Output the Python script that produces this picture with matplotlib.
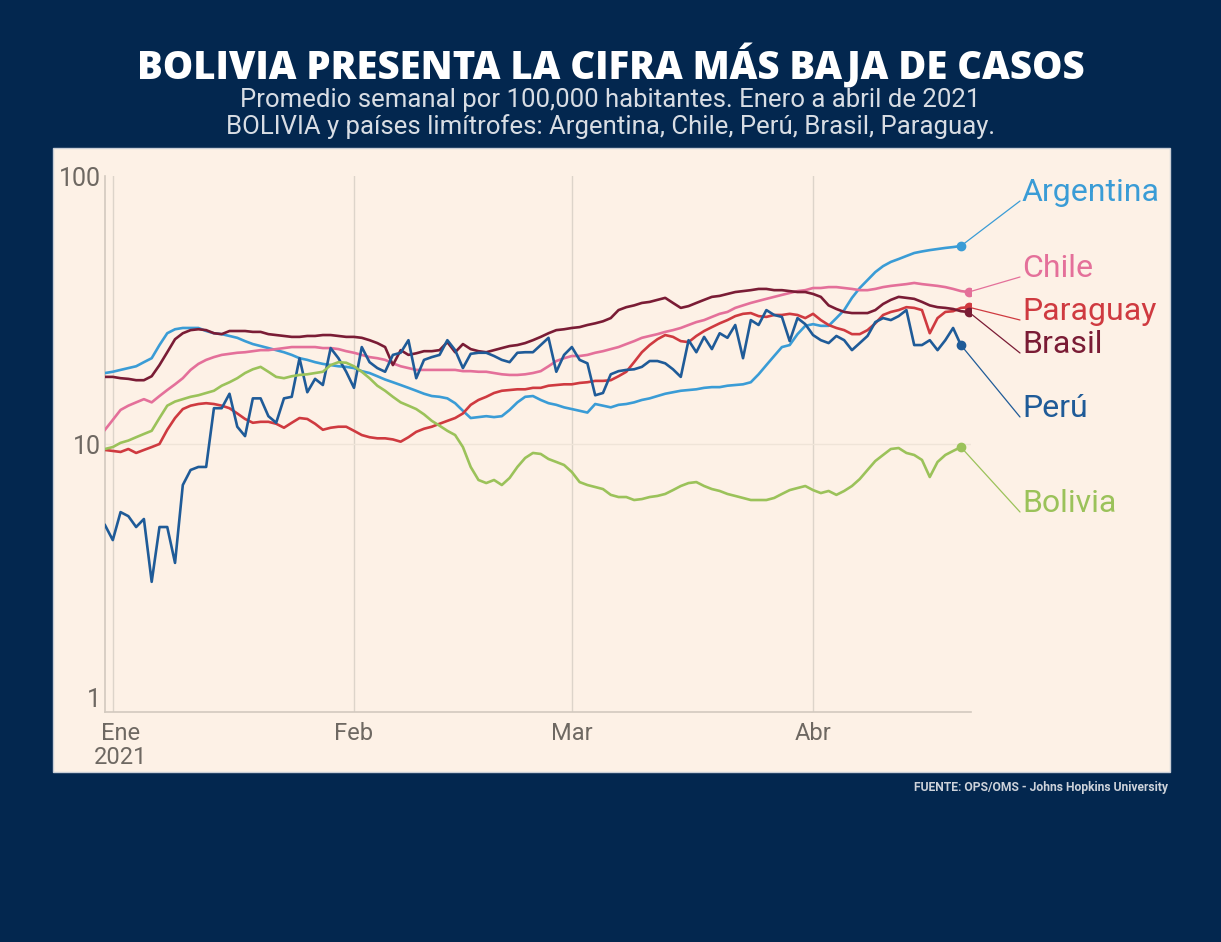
import numpy as np
import pandas as pd
import matplotlib
matplotlib.use("Agg")
from matplotlib import pyplot as plt
from matplotlib.patches import Rectangle
from matplotlib.transforms import ScaledTranslation

# Promedio semanal de casos por 100,000 habitantes, desde el 31 dic 2020
argentina = [
    18.4, 18.6, 18.9, 19.2, 19.5, 20.2, 20.9, 23.4, 25.9, 26.8,
    27.1, 27.1, 27.1, 26.4, 25.9, 25.7, 25.3, 24.9, 24.2, 23.6,
    23.2, 22.8, 22.4, 22.0, 21.5, 20.9, 20.6, 20.2, 19.9, 19.7,
    19.5, 19.4, 19.2, 18.7, 18.4, 17.9, 17.4, 17.0, 16.6, 16.2,
    15.8, 15.4, 15.1, 15.0, 14.8, 14.2, 13.3, 12.5, 12.6, 12.7,
    12.6, 12.7, 13.4, 14.3, 15.0, 15.1, 14.6, 14.2, 14.0, 13.7,
    13.5, 13.3, 13.1, 14.1, 13.9, 13.7, 14.0, 14.1, 14.3, 14.6,
    14.8, 15.1, 15.4, 15.6, 15.8, 15.9, 16.0, 16.2, 16.3, 16.3,
    16.5, 16.6, 16.7, 17.0, 18.2, 19.7, 21.3, 23.0, 23.4, 25.7,
    27.6, 28.0, 27.6, 27.6, 29.5, 31.6, 35.1, 38.2, 40.9, 43.8,
    46.1, 47.8, 49.0, 50.3, 51.6, 52.3, 52.9, 53.4, 53.9, 54.3,
    54.8,
]
chile = [
    11.3, 12.3, 13.4, 13.9, 14.3, 14.7, 14.3, 15.1, 15.9, 16.7,
    17.6, 18.9, 19.9, 20.6, 21.1, 21.5, 21.7, 21.9, 22.0, 22.2,
    22.4, 22.4, 22.6, 22.8, 23.0, 23.0, 23.0, 23.0, 22.8, 22.8,
    22.6, 22.2, 21.9, 21.5, 21.1, 20.9, 20.6, 20.0, 19.5, 19.2,
    18.9, 18.9, 18.9, 18.9, 18.9, 18.9, 18.7, 18.7, 18.6, 18.6,
    18.4, 18.2, 18.1, 18.1, 18.2, 18.4, 18.7, 19.5, 20.4, 20.9,
    21.3, 21.3, 21.5, 21.9, 22.2, 22.6, 23.0, 23.6, 24.2, 24.9,
    25.3, 25.7, 26.2, 26.6, 27.1, 27.8, 28.5, 29.0, 29.8, 30.6,
    31.1, 32.2, 32.9, 33.6, 34.2, 34.8, 35.4, 36.0, 36.6, 37.2,
    37.5, 38.2, 38.2, 38.5, 38.5, 38.2, 37.9, 37.5, 37.5, 37.9,
    38.5, 38.9, 39.2, 39.5, 39.9, 39.5, 39.2, 38.9, 38.5, 37.9,
    37.2, 36.9,
]
paraguay = [
    9.50, 9.42, 9.34, 9.58, 9.26, 9.50, 9.74, 10.0, 11.3, 12.5,
    13.5, 13.9, 14.1, 14.2, 14.1, 13.9, 13.6, 13.0, 12.4, 12.0,
    12.1, 12.1, 11.9, 11.5, 12.0, 12.5, 12.4, 11.9, 11.3, 11.5,
    11.6, 11.6, 11.2, 10.8, 10.6, 10.5, 10.5, 10.4, 10.2, 10.6,
    11.1, 11.4, 11.6, 11.9, 12.2, 12.5, 13.0, 14.0, 14.6, 15.0,
    15.5, 15.8, 15.9, 16.0, 16.0, 16.2, 16.2, 16.5, 16.6, 16.7,
    16.7, 16.9, 17.0, 17.2, 17.2, 17.3, 17.9, 18.6, 20.2, 22.0,
    23.4, 24.6, 25.5, 25.1, 24.2, 24.0, 25.3, 26.4, 27.3, 28.2,
    29.0, 30.0, 30.6, 30.8, 30.0, 29.8, 30.3, 30.3, 30.6, 30.3,
    29.5, 30.6, 29.0, 27.8, 27.1, 26.6, 25.7, 25.7, 26.6, 28.2,
    30.3, 31.1, 31.6, 32.4, 32.2, 31.6, 25.9, 29.5, 31.1, 31.3,
    32.2, 32.4,
]
brasil = [
    17.8, 17.8, 17.6, 17.5, 17.3, 17.3, 17.9, 19.7, 22.0, 24.6,
    25.9, 26.6, 26.8, 26.6, 25.9, 25.7, 26.4, 26.4, 26.4, 26.2,
    26.2, 25.7, 25.5, 25.3, 25.1, 25.1, 25.3, 25.3, 25.5, 25.5,
    25.3, 25.1, 25.1, 24.9, 24.4, 23.8, 23.0, 19.7, 22.4, 21.5,
    21.8, 22.2, 22.2, 22.4, 24.0, 22.0, 23.6, 22.6, 22.2, 22.0,
    22.4, 22.8, 23.2, 23.4, 23.8, 24.4, 25.1, 25.9, 26.6, 26.8,
    27.1, 27.3, 27.8, 28.2, 28.7, 29.5, 31.6, 32.4, 32.9, 33.6,
    33.9, 34.5, 35.1, 33.6, 32.2, 32.7, 33.6, 34.5, 35.4, 35.7,
    36.3, 36.9, 37.2, 37.5, 37.9, 37.9, 37.5, 37.5, 37.2, 36.9,
    36.9, 36.3, 35.4, 32.9, 31.9, 31.1, 30.8, 30.8, 30.8, 31.6,
    33.3, 34.5, 35.4, 35.1, 34.8, 33.9, 32.9, 32.4, 32.2, 31.9,
    31.3, 31.1,
]
peru = [
    4.98, 4.38, 5.57, 5.38, 4.90, 5.25, 3.06, 4.90, 4.90, 3.60,
    7.03, 8.00, 8.21, 8.21, 13.6, 13.6, 15.4, 11.6, 10.7, 14.8,
    14.8, 12.7, 12.0, 14.8, 15.0, 20.9, 15.6, 17.5, 16.6, 22.8,
    20.9, 18.6, 16.2, 23.0, 20.2, 19.2, 18.6, 21.5, 21.9, 24.4,
    17.6, 20.6, 21.1, 21.5, 24.4, 22.4, 19.2, 21.7, 21.9, 21.9,
    21.3, 20.6, 20.2, 21.9, 22.0, 22.0, 23.4, 24.9, 18.6, 21.5,
    23.0, 20.6, 20.0, 15.2, 15.5, 18.2, 18.7, 18.9, 19.0, 19.4,
    20.4, 20.4, 20.0, 19.0, 17.8, 24.4, 22.0, 25.1, 22.6, 25.9,
    24.9, 27.8, 20.9, 29.0, 27.8, 31.6, 30.3, 29.8, 24.2, 29.5,
    28.0, 25.5, 24.4, 23.8, 25.3, 24.4, 22.4, 23.8, 25.3, 28.5,
    29.5, 29.0, 30.0, 31.6, 23.4, 23.4, 24.4, 22.4, 24.4, 27.1,
    23.4,
]
bolivia = [
    9.58, 9.74, 10.1, 10.3, 10.6, 10.9, 11.2, 12.5, 13.9, 14.4,
    14.7, 15.0, 15.2, 15.5, 15.8, 16.5, 17.0, 17.6, 18.4, 19.0,
    19.4, 18.6, 17.8, 17.6, 17.9, 18.1, 18.2, 18.4, 18.6, 19.7,
    20.2, 20.1, 19.5, 18.6, 17.6, 16.5, 15.8, 15.0, 14.3, 13.9,
    13.5, 12.9, 12.2, 11.7, 11.2, 10.8, 9.74, 8.21, 7.34, 7.15,
    7.34, 7.03, 7.47, 8.21, 8.87, 9.26, 9.18, 8.79, 8.57, 8.35,
    7.86, 7.21, 7.03, 6.91, 6.79, 6.46, 6.34, 6.34, 6.18, 6.23,
    6.34, 6.40, 6.51, 6.73, 6.97, 7.15, 7.21, 6.97, 6.79, 6.68,
    6.51, 6.40, 6.29, 6.18, 6.18, 6.18, 6.29, 6.51, 6.73, 6.85,
    6.97, 6.73, 6.56, 6.68, 6.46, 6.68, 6.97, 7.40, 8.00, 8.64,
    9.10, 9.58, 9.66, 9.26, 9.10, 8.72, 7.53, 8.57, 9.10, 9.42,
    9.74,
]

paises = ["Argentina", "Chile", "Paraguay", "Brasil", "Perú", "Bolivia"]
series = [argentina, chile, paraguay, brasil, peru, bolivia]
colores = ["#3a9cd6", "#e4709a", "#cf3a40", "#7a1c35", "#1f5b98", "#9bc25a"]
# punto final de cada etiqueta (pixeles de la figura, desde abajo)
etiquetas_xy = [(1020, 741), (1020, 665), (1020, 622), (1020, 589), (1020, 525), (1020, 430)]

meses = ["2021-01-01", "2021-02-01", "2021-03-01", "2021-04-01"]
meses_txt = ["Ene\n2021", "Feb", "Mar", "Abr"]

inicio = pd.Timestamp("2020-12-31")
W, H = 1221, 942
fuente = ["Roboto", "DejaVu Sans"]

fig = plt.figure(figsize=(W / 100, H / 100), dpi=100, facecolor="#03274f")
fondo = Rectangle((53 / W, 1 - 772 / H), (1170 - 53) / W, (772 - 148) / H,
                  transform=fig.transFigure, facecolor="#fdf1e6",
                  edgecolor="#c9ced6", lw=1, zorder=-10)
fig.patches.append(fondo)

ax = fig.add_axes([105 / W, 1 - 712 / H, (971 - 105) / W, (712 - 176) / H])
ax.set_zorder(1)
ax.set_facecolor("none")
ax.set_yscale("log")
ax.set_ylim(1, 100)
ax.set_xlim(inicio, inicio + pd.Timedelta(days=111.3))

for m in meses:
    ax.axvline(pd.Timestamp(m), color="#ddd4ca", lw=1, zorder=1)
ax.axhline(10, color="#efe4d8", lw=1, zorder=1)

for nombre, valores, c, (tx, ty) in zip(paises, series, colores, etiquetas_xy):
    fechas = pd.date_range(inicio, periods=len(valores), freq="D")
    ax.plot(fechas, valores, color=c, lw=1.9, zorder=3, solid_joinstyle="round")
    ax.plot(fechas[-1], valores[-1], "o", color=c, ms=6, zorder=4)
    ax.annotate("", xy=(fechas[-1], valores[-1]), xycoords="data",
                xytext=(tx, ty), textcoords="figure pixels",
                arrowprops=dict(arrowstyle="-", color=c, lw=0.9, shrinkA=0, shrinkB=0),
                annotation_clip=False)
    fig.text((tx + 2) / W, ty / H, nombre, color=c, fontsize=23, family=fuente,
             ha="left", va="baseline", zorder=5)

ax.set_yticks([1, 10, 100])
ax.set_yticklabels(["1", "10", "100"])
ax.minorticks_off()
ax.set_xticks([pd.Timestamp(m) for m in meses])
ax.set_xticklabels(meses_txt)
ax.tick_params(axis="y", length=0, labelcolor="#6e6862", labelsize=18, pad=3)
ax.tick_params(axis="x", length=0, labelcolor="#6e6862", labelsize=17, pad=7)
for lab in ax.get_xticklabels() + ax.get_yticklabels():
    lab.set_family(fuente)
    lab.set_linespacing(1.05)
# el "1" queda por encima del eje y "Ene" algo a la derecha, como en el original
ax.get_yticklabels()[0].set_va("bottom")
ene = ax.get_xticklabels()[0]
ene.set_transform(ene.get_transform() + ScaledTranslation(8 / 100, 0, fig.dpi_scale_trans))
for lado in ["top", "right"]:
    ax.spines[lado].set_visible(False)
for lado in ["left", "bottom"]:
    ax.spines[lado].set_color("#d2c9bf")
    ax.spines[lado].set_linewidth(1.2)

fig.text(0.5, 1 - 66 / H, "BOLIVIA PRESENTA LA CIFRA MÁS BAJA DE CASOS", color="white",
         fontsize=27.5, weight="heavy", family=["Open Sans", "DejaVu Sans"], ha="center", va="center")
fig.text(0.5, 1 - 100 / H, "Promedio semanal por 100,000 habitantes. Enero a abril de 2021",
         color="#d8dde4", fontsize=18.5, family=fuente, ha="center", va="center")
fig.text(0.5, 1 - 127 / H, "BOLIVIA y países limítrofes: Argentina, Chile, Perú, Brasil, Paraguay.",
         color="#d8dde4", fontsize=18.5, family=fuente, ha="center", va="center")
fig.text(1168 / W, 1 - 787 / H, "FUENTE: OPS/OMS - Johns Hopkins University", color="#cdd2da",
         fontsize=8.7, weight="bold", family=fuente, ha="right", va="center")

fig.savefig("out.png", dpi=100, facecolor=fig.get_facecolor())
